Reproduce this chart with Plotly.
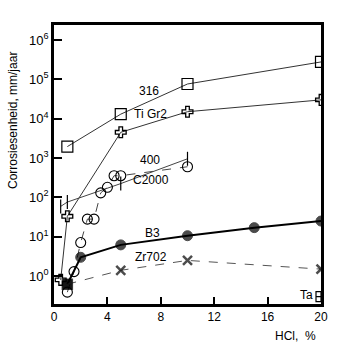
import plotly.graph_objects as go

# Data (HCl %, corrosion mm/jaar)
x_316 = [1, 5, 10, 20]
y_316 = [1950, 13000, 76000, 276000]

x_ti = [0.5, 1, 5, 10, 20]
y_ti = [0.8, 33, 4500, 15000, 30000]

x_400 = [0.5, 1, 5, 10]
y_400 = [59, 76, 224, 955]

x_c2000 = [1, 1.5, 2, 2.5, 3, 3.5, 4, 4.5, 5, 10]
y_c2000 = [0.39, 1.3, 7.1, 28, 28, 130, 180, 355, 355, 600]

x_b3 = [1, 2, 5, 10, 15, 20]
y_b3 = [0.62, 3, 6.2, 10.6, 17, 25]

x_zr = [1, 5, 10, 20]
y_zr = [0.62, 1.4, 2.5, 1.5]

x_ta = [20]
y_ta = [0.3]

x_ticks = [0, 4, 8, 12, 16, 20]
y_exps = [0, 1, 2, 3, 4, 5, 6]
y_ticks = [10 ** e for e in y_exps]
y_ticktext = ["10<sup>%d</sup>" % e for e in y_exps]

FONT = "Liberation Sans, Arial, sans-serif"
INK = "#000000"

W, H = 350, 356
L, R, T, B = 54, 29, 25, 52
pw, ph = W - L - R, H - T - B

fig = go.Figure()

fig.add_trace(go.Scatter(x=x_316, y=y_316, mode="lines+markers",
                         line=dict(color="#333", width=1),
                         marker=dict(symbol="square-open", size=11, color=INK, line=dict(width=1.2))))
fig.add_trace(go.Scatter(x=x_ti, y=y_ti, mode="lines+markers",
                         line=dict(color="#333", width=1),
                         marker=dict(symbol="cross-open", size=9, color=INK, line=dict(width=1.3))))
fig.add_trace(go.Scatter(x=x_400, y=y_400, mode="lines+markers",
                         line=dict(color="#444", width=1),
                         marker=dict(symbol="line-ns", size=10, color=INK, line=dict(width=1.2, color=INK))))
fig.add_trace(go.Scatter(x=x_c2000, y=y_c2000, mode="lines+markers",
                         line=dict(color="#444", width=1, dash="dash"),
                         marker=dict(symbol="circle-open", size=10, color=INK, line=dict(width=1.1))))
fig.add_trace(go.Scatter(x=x_b3, y=y_b3, mode="lines+markers",
                         line=dict(color=INK, width=2),
                         marker=dict(symbol=["square"] + ["circle"] * (len(x_b3) - 1),
                                     size=[9] + [10] * (len(x_b3) - 1), color=INK,
                                     line=dict(width=1, color=INK))))
fig.add_trace(go.Scatter(x=x_zr, y=y_zr, mode="lines+markers",
                         line=dict(color="#555", width=1, dash="dash"),
                         marker=dict(symbol=["square"] + ["x-thin-open"] * (len(x_zr) - 1),
                                     size=[9] + [9] * (len(x_zr) - 1), color=INK,
                                     line=dict(width=2.5, color=INK))))
fig.add_trace(go.Scatter(x=x_ta, y=y_ta, mode="markers",
                         marker=dict(symbol="square-cross-open", size=10, color=INK, line=dict(width=1.2))))

labels = [("316", 7.1, 4.70), ("Ti Gr2", 7.2, 4.12), ("400", 7.2, 2.95),
          ("C2000", 7.25, 2.44), ("B3", 7.35, 1.09), ("Zr702", 7.3, 0.48), ("Ta", 18.9, -0.48)]
for t, ax, ay in labels:
    fig.add_annotation(x=ax, y=ay, xref="x", yref="y", text=t, showarrow=False,
                       font=dict(family=FONT, size=12, color=INK))

# axis titles placed in pixel positions, converted to paper coords
fig.add_annotation(x=(13 - L) / pw, y=1 - (121 - T) / ph, xref="paper", yref="paper",
                   xanchor="center", yanchor="middle",
                   text="Corrosiesenheid, mm/jaar", showarrow=False, textangle=-90,
                   font=dict(family=FONT, size=12, color=INK))
fig.add_annotation(x=(295 - L) / pw, y=1 - (336 - T) / ph, xref="paper", yref="paper",
                   xanchor="center", yanchor="middle",
                   text="HCl,  %", showarrow=False,
                   font=dict(family=FONT, size=12, color=INK))

fig.update_layout(
    width=W, height=H, margin=dict(l=L, r=R, t=T, b=B),
    paper_bgcolor="white", plot_bgcolor="white", showlegend=False,
    font=dict(family=FONT, size=12, color=INK),
)
fig.update_xaxes(range=[0, 20], tickvals=x_ticks, ticktext=[str(v) for v in x_ticks],
                 ticks="inside", ticklen=7, tickwidth=1.5, tickcolor=INK,
                 showline=True, linewidth=2.5, linecolor=INK, mirror=True,
                 showgrid=False, zeroline=False, tickfont=dict(size=12))
fig.update_yaxes(type="log", range=[-0.71, 6.38], tickvals=y_ticks, ticktext=y_ticktext,
                 ticks="inside", ticklen=8, tickwidth=1.5, tickcolor=INK,
                 showline=True, linewidth=2.5, linecolor=INK, mirror=True,
                 showgrid=False, zeroline=False, tickfont=dict(size=13))

fig.write_html("out.html")
